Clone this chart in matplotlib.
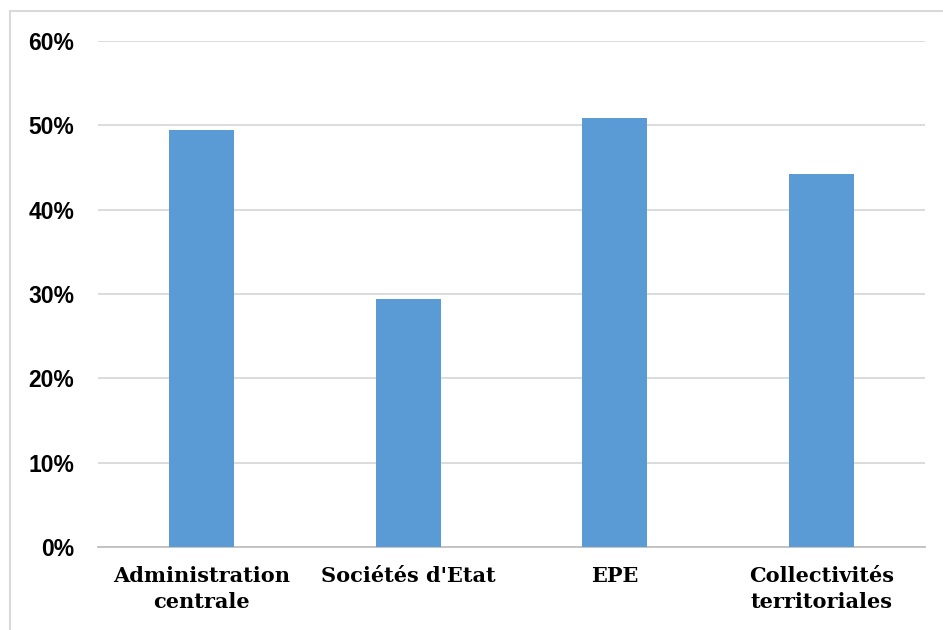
import matplotlib
matplotlib.use("Agg")
import matplotlib.pyplot as plt
from matplotlib.patches import Rectangle

# données
categories = ["Administration\ncentrale", "Sociétés d'Etat", "EPE", "Collectivités\nterritoriales"]
values = [49.5, 29.4, 50.9, 44.2]
yticks = [0, 10, 20, 30, 40, 50, 60]
ytick_labels = ["0%", "10%", "20%", "30%", "40%", "50%", "60%"]

fig = plt.figure(figsize=(9.43, 6.3), dpi=100)
ax = fig.add_axes([98/943, 1 - 547/630, 827/943, 506/630])

# cadre du graphique (gauche et haut visibles)
fig.patches.append(Rectangle((10/943, -0.1), 1.2, 1 - 11/630 + 0.1,
                             transform=fig.transFigure, fill=False,
                             edgecolor="#d9d9d9", linewidth=1.5))

x = range(len(categories))
ax.bar(x, values, width=0.315, color="#5b9bd5", zorder=3)

ax.set_xlim(-0.5, len(categories) - 0.5)
ax.set_ylim(0, 60)
ax.set_yticks(yticks)
ax.set_yticklabels(ytick_labels, fontsize=16.5, fontweight="bold",
                   family="Liberation Sans")
ax.set_xticks(list(x))
ax.set_xticklabels(categories, fontsize=15, fontweight="bold",
                   family="DejaVu Serif", linespacing=1.35)

ax.grid(axis="y", color="#d9d9d9", linewidth=1.3, zorder=0)
for s in ["top", "right", "left"]:
    ax.spines[s].set_visible(False)
ax.spines["bottom"].set_color("#bfbfbf")
ax.spines["bottom"].set_linewidth(1.3)
ax.tick_params(axis="both", length=0)
ax.tick_params(axis="y", pad=17)
ax.tick_params(axis="x", pad=14)

fig.savefig("out.png", dpi=100)
